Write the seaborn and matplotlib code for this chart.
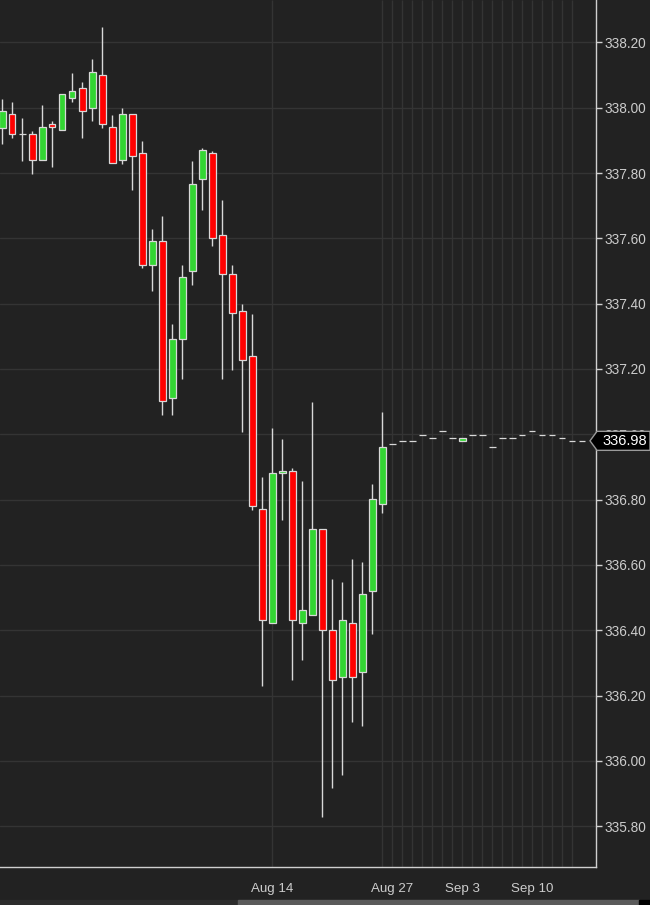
# Candlestick chart of price with a flat forecast tail
import numpy as np
import pandas as pd
import matplotlib
matplotlib.use("Agg")
import matplotlib.pyplot as plt
import matplotlib.transforms as mtransforms
from matplotlib.patches import Polygon, Rectangle
import seaborn as sns

# ---- data ----
opens = [337.939, 337.980, 337.919, 337.919, 337.839, 337.949, 337.931, 338.029, 338.059, 338.000,
         338.099, 337.940, 337.839, 337.980, 337.860, 337.520, 337.591, 337.110, 337.291, 337.499,
         337.781, 337.860, 337.609, 337.490, 337.379, 337.239, 336.770, 336.421, 336.880, 336.889,
         336.421, 336.448, 336.709, 336.400, 336.258, 336.421, 336.271, 336.519, 336.788,
         336.970, 336.981, 336.981, 336.999, 336.990, 337.009, 336.990, 336.981, 336.999, 336.999,
         336.960, 336.990, 336.990, 336.999, 337.009, 336.999, 336.999, 336.990, 336.981, 336.981]
highs = [338.027, 338.017, 337.968, 337.929, 338.008, 337.959, 338.041, 338.106, 338.079, 338.149,
         338.247, 337.978, 337.999, 337.980, 337.898, 337.628, 337.668, 337.338, 337.518, 337.837,
         337.877, 337.867, 337.717, 337.518, 337.399, 337.368, 336.868, 337.018, 336.987, 336.896,
         336.857, 337.099, 336.709, 336.557, 336.547, 336.618, 336.609, 336.847, 337.068,
         336.970, 336.981, 336.981, 336.999, 336.990, 337.009, 336.990, 336.990, 336.999, 336.999,
         336.960, 336.990, 336.990, 336.999, 337.009, 336.999, 336.999, 336.990, 336.981, 336.981]
lows = [337.889, 337.908, 337.838, 337.798, 337.839, 337.819, 337.931, 338.018, 337.908, 337.960,
        337.939, 337.830, 337.828, 337.749, 337.510, 337.440, 337.060, 337.060, 337.170, 337.458,
        337.688, 337.577, 337.170, 337.198, 337.008, 336.769, 336.230, 336.421, 336.738, 336.248,
        336.309, 336.448, 335.828, 335.917, 335.957, 336.119, 336.107, 336.389, 336.760,
        336.970, 336.981, 336.981, 336.999, 336.990, 337.009, 336.990, 336.981, 336.999, 336.999,
        336.960, 336.990, 336.990, 336.999, 337.009, 336.999, 336.999, 336.990, 336.981, 336.981]
closes = [337.990, 337.919, 337.919, 337.839, 337.940, 337.940, 338.041, 338.051, 337.989, 338.108,
          337.949, 337.830, 337.980, 337.851, 337.520, 337.591, 337.101, 337.291, 337.481, 337.768,
          337.870, 337.600, 337.490, 337.370, 337.229, 336.779, 336.430, 336.880, 336.889, 336.430,
          336.461, 336.709, 336.400, 336.249, 336.430, 336.258, 336.510, 336.801, 336.960,
          336.970, 336.981, 336.981, 336.999, 336.990, 337.009, 336.990, 336.990, 336.999, 336.999,
          336.960, 336.990, 336.990, 336.999, 337.009, 336.999, 336.999, 336.990, 336.981, 336.981]

date_ticks = [27, 39, 46, 53]
date_labels = ["Aug 14", "Aug 27", "Sep 3", "Sep 10"]
price_ticks = [335.80, 336.00, 336.20, 336.40, 336.60, 336.80, 337.00,
               337.20, 337.40, 337.60, 337.80, 338.00, 338.20]
last_price = 336.98
vgrid_idx = [27] + list(range(38, 58))

df = pd.DataFrame({"open": opens, "high": highs, "low": lows, "close": closes})
df["idx"] = np.arange(len(df))
df["bottom"] = df[["open", "close"]].min(axis=1)
df["height"] = (df["close"] - df["open"]).abs()
df["color"] = np.where(df["close"] >= df["open"], "#33d633", "#ff0000")

# ---- style ----
BG = "#222222"
FG = "#cccccc"
GRID = "#343434"
sns.set_style("dark", rc={"axes.facecolor": BG, "figure.facecolor": BG})
plt.rcParams["font.family"] = ["Liberation Sans", "DejaVu Sans"]

W, H = 650, 905
fig = plt.figure(figsize=(W / 100, H / 100), dpi=100)
ax = fig.add_axes([0, (H - 867.3) / H, 596.3 / W, 867.3 / H])
ax.set_facecolor(BG)

# grid
for p in price_ticks:
    ax.axhline(p, color=GRID, lw=1, zorder=0)
ax.vlines(vgrid_idx, 0, 1, transform=ax.get_xaxis_transform(), color=GRID, lw=1, zorder=0)

# wicks + bodies
ax.vlines(df["idx"], df["low"], df["high"], color="#d8d8d8", lw=1, zorder=2)
ax.bar(df["idx"], df["height"], bottom=df["bottom"], width=0.64,
       color=df["color"], edgecolor="#d8d8d8", linewidth=0.9, zorder=3)

ax.set_xlim(-0.23, 59.4)
ax.set_ylim(335.674, 338.330)

# axes look
for side in ["left", "top"]:
    ax.spines[side].set_visible(False)
for side in ["right", "bottom"]:
    ax.spines[side].set_visible(True)
    ax.spines[side].set_color("#d0d0d0")
    ax.spines[side].set_linewidth(1)

ax.yaxis.tick_right()
ax.set_yticks(price_ticks)
ax.set_yticklabels([f"{p:.2f}" for p in price_ticks])
ax.set_xticks(date_ticks)
ax.set_xticklabels(date_labels)
ax.tick_params(axis="y", which="both", direction="out", length=4, width=1, color="#d0d0d0",
               labelcolor=FG, labelsize=9.8, pad=2, left=False, right=True)
ax.tick_params(axis="x", direction="out", length=5, width=1, color="#d0d0d0",
               labelcolor=FG, labelsize=9.6, pad=6)
ax.grid(False)

# last price flag on the right axis (covers the 337.00 label as in the source)
trans = mtransforms.blended_transform_factory(fig.transFigure, ax.transData)
half = 9.5 / 326.5
flag = Polygon([(590 / W, last_price), (597 / W, last_price + half), (1.0, last_price + half),
                (1.0, last_price - half), (597 / W, last_price - half)],
               closed=True, transform=trans, facecolor="#000000", edgecolor="#9a9a9a",
               linewidth=1, clip_on=False, zorder=10)
ax.add_patch(flag)
ax.text(625 / W, last_price, f"{last_price:.2f}", transform=trans, ha="center", va="center",
        color="white", fontsize=10.5, zorder=11, clip_on=False)

# scroll bar strip at the bottom
fig.patches.append(Rectangle((0, 0), 1, 5 / H, transform=fig.transFigure, color="#2c2c2c", zorder=0))
fig.patches.append(Rectangle((238 / W, 0), 401 / W, 5 / H, transform=fig.transFigure, color="#5a5a5a", zorder=1))
fig.patches.append(Rectangle((639 / W, 0), 11 / W, 5 / H, transform=fig.transFigure, color="#000000", zorder=1))

fig.savefig("out.png", dpi=100, facecolor=BG)
